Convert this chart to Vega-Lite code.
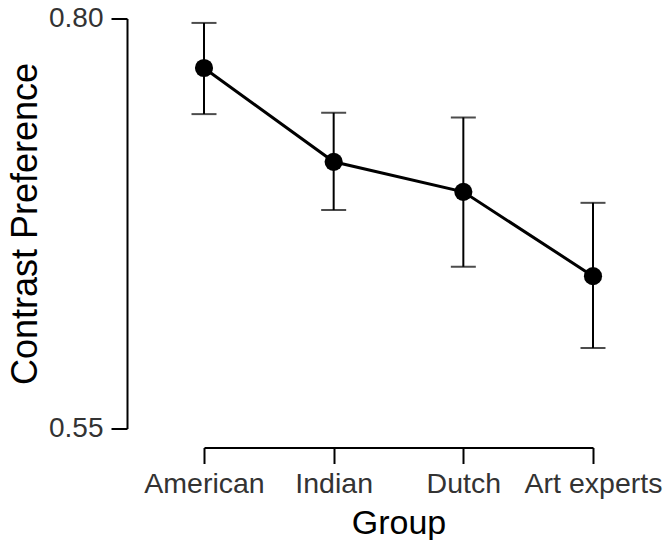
{
  "$schema": "https://vega.github.io/schema/vega-lite/v6.json",
  "autosize": {"type": "none"},
  "padding": {"left": 204, "top": 18.5, "right": 71, "bottom": 111.5},
  "width": 389,
  "height": 410,
  "background": "white",
  "config": {
    "view": {"stroke": null},
    "font": "Liberation Sans",
    "axis": {
      "grid": false,
      "domainColor": "black",
      "domainWidth": 2,
      "tickColor": "black",
      "tickWidth": 2,
      "tickSize": 16,
      "labelFont": "Liberation Sans",
      "labelFontSize": 28.5,
      "labelColor": "#333333",
      "titleFont": "Liberation Sans",
      "titleFontSize": 34,
      "titleFontWeight": "normal",
      "titleColor": "black"
    }
  },
  "data": {
    "values": [
      {"group": "American", "mean": 0.7698, "lo": 0.7417, "hi": 0.7973},
      {"group": "Indian", "mean": 0.7126, "lo": 0.6832, "hi": 0.7425},
      {"group": "Dutch", "mean": 0.6943, "lo": 0.6486, "hi": 0.7397},
      {"group": "Art experts", "mean": 0.6429, "lo": 0.5991, "hi": 0.6876}
    ]
  },
  "encoding": {
    "x": {
      "field": "group",
      "type": "nominal",
      "sort": ["American", "Indian", "Dutch", "Art experts"],
      "scale": {"type": "point", "padding": 0},
      "title": "Group",
      "axis": {"offset": 19, "labelAngle": 0, "labelPadding": 6, "titlePadding": 8}
    }
  },
  "layer": [
    {
      "mark": {"type": "rule", "color": "black", "strokeWidth": 2},
      "encoding": {
        "y": {
          "field": "lo",
          "type": "quantitative",
          "scale": {"domain": [0.55, 0.8], "nice": false, "zero": false},
          "title": "Contrast Preference",
          "axis": {"values": [0.55, 0.8], "format": ".2f", "offset": 77, "labelPadding": 8, "titlePadding": 4, "titleFontSize": 36, "labelFontSize": 28}
        },
        "y2": {"field": "hi"}
      }
    },
    {
      "mark": {"type": "tick", "color": "black", "thickness": 2, "size": 25, "orient": "horizontal"},
      "encoding": {"y": {"field": "lo", "type": "quantitative"}}
    },
    {
      "mark": {"type": "tick", "color": "black", "thickness": 2, "size": 25, "orient": "horizontal"},
      "encoding": {"y": {"field": "hi", "type": "quantitative"}}
    },
    {
      "mark": {"type": "line", "color": "black", "strokeWidth": 3},
      "encoding": {"y": {"field": "mean", "type": "quantitative"}}
    },
    {
      "mark": {"type": "point", "filled": true, "color": "black", "opacity": 1, "size": 330},
      "encoding": {"y": {"field": "mean", "type": "quantitative"}}
    }
  ]
}
